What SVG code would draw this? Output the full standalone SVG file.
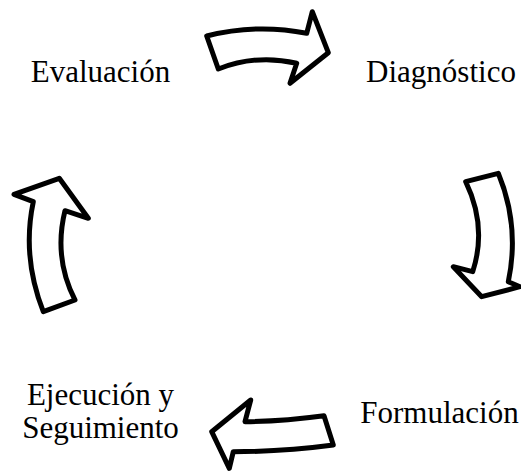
<svg xmlns="http://www.w3.org/2000/svg" width="521" height="471" viewBox="0 0 521 471">
<style>
.lbl{font-family:"Liberation Serif","Times New Roman",serif;font-size:31px;fill:#000;text-anchor:middle}
.arr{fill:#fff;stroke:#000;stroke-width:5;stroke-linejoin:round}
</style>
<rect width="521" height="471" fill="#fff"/>
<g id="connectors">
<path class="arr" d="M206.7,36 Q256.7,23.4 306.7,33.3 L312.3,11.7 L328.3,52.7 L290,83.3 L296.7,63.3 Q256.7,53.9 218.3,69 Z"/>
<path class="arr" d="M465.7,181.7 L498.3,173.3 Q520,225.9 508.3,281.7 L520,286.7 L481.7,296.7 L453.3,266.7 L472.7,271.7 Q487.4,226.7 465.7,181.7 Z"/>
<path class="arr" d="M324,415.7 Q282.1,421.3 245,421.7 L250.7,400 L211.7,431.7 L229.3,468.3 L233.3,451.7 Q283.3,451.7 333.3,445 Z"/>
<path class="arr" d="M43.3,311.7 Q21.7,256.7 33.3,201.7 L14,194.3 L59.3,178.3 L88.3,218.3 L65,210.7 Q53.4,258 75,300 Z"/>
</g>
<g id="evaluacion"><text class="lbl" x="100.5" y="82.3">Evaluación</text></g>
<g id="diagnostico"><text class="lbl" x="441" y="82.3">Diagnóstico</text></g>
<g id="formulacion"><text class="lbl" x="439.5" y="423.3">Formulación</text></g>
<g id="ejecucion"><text class="lbl" x="100.5" y="404.8">Ejecución y</text><text class="lbl" x="100.5" y="437.5">Seguimiento</text></g>
</svg>
